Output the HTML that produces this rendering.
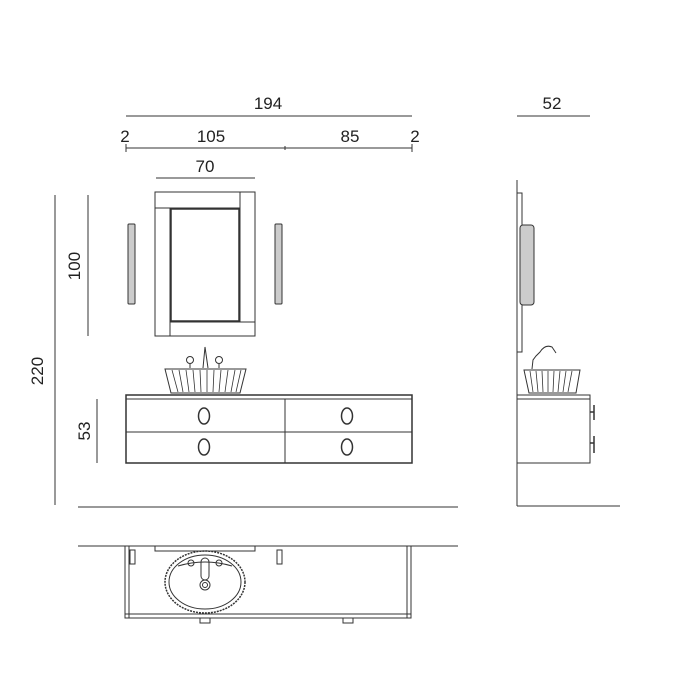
<!DOCTYPE html>
<html><head><style>body{margin:0;background:#fff}svg{display:block}text{font-family:"Liberation Sans",sans-serif;font-size:17px;fill:#222}</style></head><body>
<svg width="700" height="700" viewBox="0 0 700 700" stroke="#333" fill="none" stroke-width="1">
<rect width="700" height="700" fill="#fff" stroke="none"/>
<!-- dims top -->
<line x1="126" y1="116" x2="412" y2="116"/>
<text x="268" y="109" text-anchor="middle" stroke="none">194</text>
<line x1="126" y1="148" x2="412" y2="148"/>
<line x1="126" y1="144" x2="126" y2="152"/><line x1="285" y1="146" x2="285" y2="150"/><line x1="412" y1="144" x2="412" y2="152"/>
<text x="125" y="142" text-anchor="middle" stroke="none">2</text>
<text x="211" y="142" text-anchor="middle" stroke="none">105</text>
<text x="350" y="142" text-anchor="middle" stroke="none">85</text>
<text x="415" y="142" text-anchor="middle" stroke="none">2</text>
<line x1="156" y1="178" x2="255" y2="178"/>
<text x="205" y="172" text-anchor="middle" stroke="none">70</text>
<!-- left dims -->
<line x1="88" y1="195" x2="88" y2="336"/>
<text transform="translate(80,266) rotate(-90)" text-anchor="middle" stroke="none">100</text>
<line x1="55" y1="195" x2="55" y2="505"/>
<text transform="translate(43,371) rotate(-90)" text-anchor="middle" stroke="none">220</text>
<line x1="97" y1="399" x2="97" y2="463"/>
<text transform="translate(90,431) rotate(-90)" text-anchor="middle" stroke="none">53</text>
<line x1="78" y1="507" x2="458" y2="507"/>
<!-- mirror -->
<rect x="155" y="192" width="100" height="144"/>
<line x1="170" y1="208" x2="170" y2="336"/><line x1="240" y1="192" x2="240" y2="322"/>
<line x1="155" y1="208" x2="240" y2="208"/><line x1="170" y1="322" x2="255" y2="322"/>
<rect x="171" y="209" width="68" height="112" stroke-width="1.5"/>
<rect x="128" y="224" width="7" height="80" rx="1" fill="#ccc"/>
<rect x="275" y="224" width="7" height="80" rx="1" fill="#ccc"/>
<!-- basin -->
<path d="M165 369 L246 369 L240 393 L171 393 Z"/>
<g stroke-width="0.8"><path d="M172 370 L178 392 M179 370 L183 392 M186 370 L189 392 M193 370 L195 392 M200 370 L201 392 M207 370 L207 392 M214 370 L213 392 M221 370 L219 392 M228 370 L225 392 M235 370 L231 392 M241 370 L236 392"/></g>
<path d="M203 368 L205 347 L208 368"/>
<circle cx="190" cy="360" r="3.5"/><line x1="190" y1="364" x2="190" y2="368"/>
<circle cx="219" cy="360" r="3.5"/><line x1="219" y1="364" x2="219" y2="368"/>
<!-- cabinet -->
<rect x="126" y="395" width="286" height="68" stroke-width="1.5"/>
<line x1="126" y1="399" x2="412" y2="399"/>
<line x1="126" y1="432" x2="412" y2="432"/>
<line x1="285" y1="399" x2="285" y2="463"/>
<g stroke-width="1.5"><ellipse cx="204" cy="416" rx="5.5" ry="8"/><ellipse cx="347" cy="416" rx="5.5" ry="8"/><ellipse cx="204" cy="447" rx="5.5" ry="8"/><ellipse cx="347" cy="447" rx="5.5" ry="8"/></g>
<!-- side view -->
<line x1="517" y1="116" x2="590" y2="116"/>
<text x="552" y="109" text-anchor="middle" stroke="none">52</text>
<line x1="517" y1="180" x2="517" y2="506"/><line x1="517" y1="506" x2="620" y2="506"/>
<rect x="517" y="193" width="5" height="159"/>
<rect x="520" y="225" width="14" height="80" rx="3" fill="#ccc"/>
<path d="M524 370 L580 370 L576 393 L529 393 Z"/>
<path d="M530 371 L533 392 M536 371 L538 392 M542 371 L543 392 M548 371 L548 392 M554 371 L553 392 M560 371 L558 392 M566 371 L563 392 M572 371 L568 392" stroke-width="0.8"/>
<path d="M532 369 L533 360 L536 356 L540 352 Q545 344 552 347 L556 353"/>
<rect x="517" y="395" width="73" height="68"/><line x1="517" y1="399" x2="590" y2="399"/>
<path d="M590 412 L594 412 M594 405 L594 420 M590 443 L594 443 M594 436 L594 453" stroke-width="1.5"/>
<!-- top view -->
<line x1="78" y1="546" x2="458" y2="546"/>
<rect x="125" y="546" width="286" height="72"/>
<line x1="129" y1="546" x2="129" y2="618"/><line x1="125" y1="614" x2="411" y2="614"/><line x1="407" y1="546" x2="407" y2="618"/>
<rect x="155" y="546" width="100" height="5"/>
<rect x="130" y="550" width="5" height="14"/><rect x="277" y="550" width="5" height="14"/>
<ellipse cx="205" cy="582" rx="40" ry="31" stroke-dasharray="2 1" stroke-width="1.5"/>
<ellipse cx="205" cy="582" rx="36" ry="27"/>
<path d="M178 566 Q205 558 232 566"/>
<circle cx="191" cy="563" r="3"/><circle cx="219" cy="563" r="3"/>
<rect x="201" y="558" width="8" height="22" rx="4"/>
<circle cx="205" cy="585" r="5"/><circle cx="205" cy="585" r="2.5"/>
<rect x="200" y="618" width="10" height="5"/><rect x="343" y="618" width="10" height="5"/>
</svg>
</body></html>
